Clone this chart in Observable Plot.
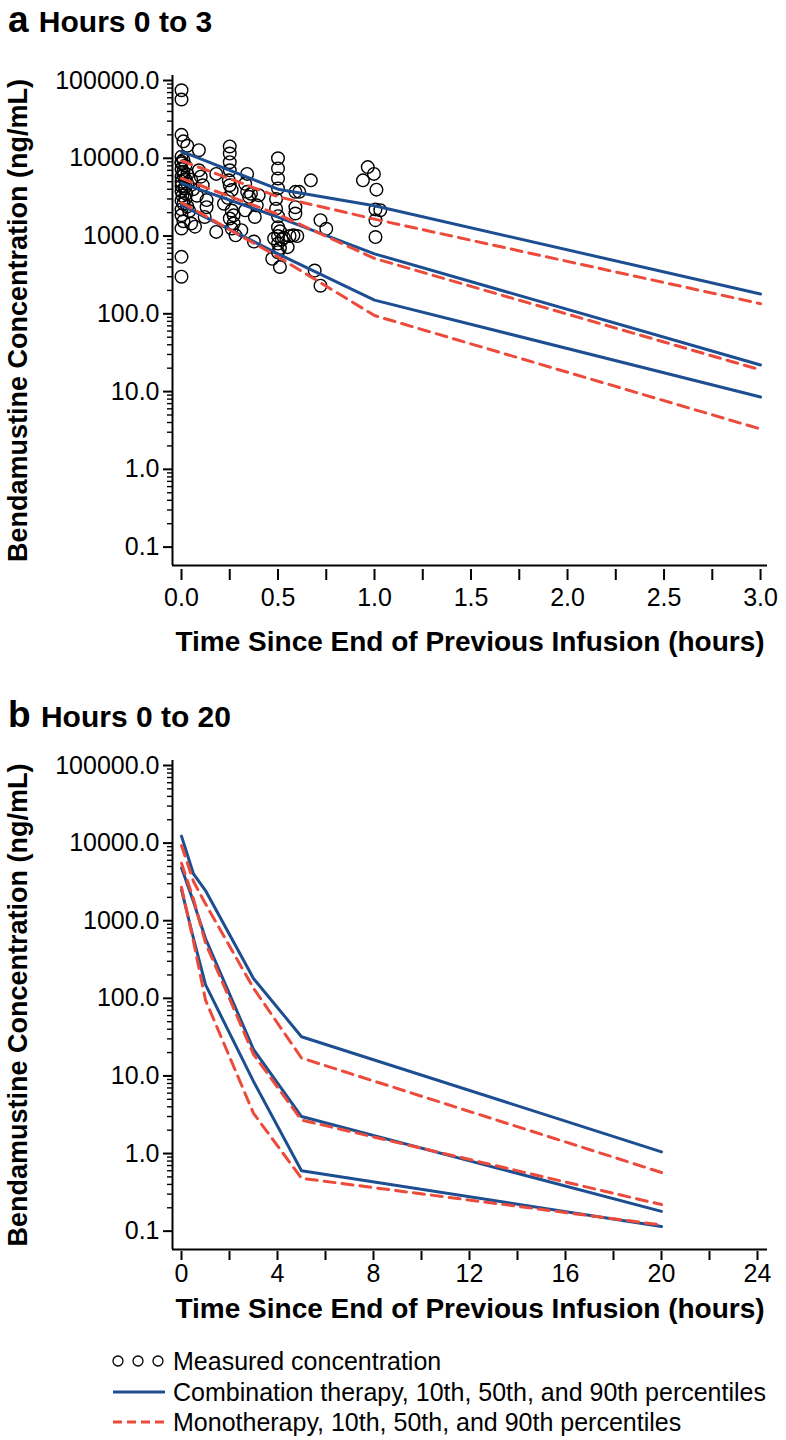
<!DOCTYPE html>
<html>
<head>
<meta charset="utf-8">
<script src="https://cdn.jsdelivr.net/npm/d3@7"></script>
<script src="https://cdn.jsdelivr.net/npm/@observablehq/plot@0.6"></script>
<style>
  html, body { margin: 0; padding: 0; background: #fff; }
  body { font-family: "Liberation Sans", Arial, Helvetica, sans-serif; color: #000; }
  #root { position: relative; width: 786px; height: 1440px; overflow: hidden; }
  .title { position: absolute; left: 8px; font-weight: bold; white-space: nowrap; font-size: 37px; line-height: 36px; z-index: 2; }
  .title .sub { font-size: 30px; }
  .panel { position: absolute; left: 0; }
</style>
</head>
<body>
<div id="root">
  <div class="panel" id="panelA" style="top:40px"></div>
  <div class="panel" id="panelB" style="top:730px"></div>
  <div class="panel" id="legend" style="top:1340px"></div>
  <div class="title" style="top:2px">a <span class="sub">Hours 0 to 3</span></div>
  <div class="title" style="top:697px">b <span class="sub">Hours 0 to 20</span></div>
</div>
<script>
// ---------- Data ----------
// Model-predicted percentiles (ng/mL) at these times (hours since end of infusion)
const modelTime = [0, 0.5, 1, 3, 5, 20];
const combo10 = [2500, 590, 150, 8.5, 0.6, 0.115];
const combo50 = [4800, 1750, 590, 22, 3.0, 0.18];
const combo90 = [12300, 4000, 2450, 180, 32, 1.05];
const mono10  = [2700, 540, 95, 3.3, 0.48, 0.12];
const mono50  = [5500, 1900, 515, 19, 2.7, 0.22];
const mono90  = [9300, 3200, 1650, 135, 17, 0.57];

// Measured concentrations (panel a)
const measuredTime = [
  0.00, 0.00, 0.00, 0.01, 0.03, 0.00, 0.01, 0.00, 0.02, 0.00,
  0.01, 0.03, 0.00, 0.02, 0.00, 0.03, 0.00, 0.015, 0.00, 0.025,
  0.005, 0.02, 0.00, 0.01, 0.03, 0.00, 0.01, 0.00, 0.00, 0.00,
  0.05, 0.07, 0.09, 0.09, 0.10, 0.11, 0.08, 0.13, 0.13, 0.05,
  0.06, 0.18, 0.18, 0.04, 0.25, 0.25, 0.25, 0.25, 0.245, 0.25,
  0.26, 0.24, 0.26, 0.27, 0.25, 0.27, 0.26, 0.28, 0.33, 0.34,
  0.35, 0.40, 0.38, 0.33, 0.375, 0.31, 0.34, 0.50, 0.50, 0.50,
  0.50, 0.49, 0.49, 0.48, 0.50, 0.51, 0.50, 0.52, 0.50, 0.51,
  0.50, 0.47, 0.51, 0.55, 0.58, 0.56, 0.60, 0.67, 0.59, 0.61,
  0.59, 0.59, 0.72, 0.75, 0.69, 0.72, 0.965, 0.997, 0.94, 1.01,
  1.005, 1.03, 1.005, 1.005, 0.12, 0.39, 0.36, 0.22, 0.53, 0.50,
  0.00, 0.01, 0.02, 0.00
];
const measuredConc = [
  75000, 57000, 20000, 16500, 14500, 10500, 9500, 8600, 8000, 7300,
  6700, 6200, 5800, 5400, 5000, 4700, 4400, 4100, 3800, 3500,
  3300, 3050, 2850, 2600, 2400, 1850, 1550, 1250, 540, 300,
  1450, 1320, 12700, 7000, 5800, 4500, 3300, 2900, 2350, 5300,
  4000, 6300, 1130, 2100, 14200, 11500, 8900, 7000, 5200, 4500,
  3900, 3100, 2130, 1850, 1680, 1450, 1250, 1020, 4700, 3700,
  3200, 3350, 1760, 2140, 850, 1190, 6300, 10000, 7400, 5500,
  4100, 3000, 2250, 930, 1300, 1150, 1000, 900, 800, 700,
  620, 510, 400, 720, 1020, 1000, 1000, 5200, 3700, 3700,
  2350, 1950, 1600, 1240, 360, 230, 7700, 6300, 5200, 3950,
  2200, 2150, 1600, 970, 1760, 2480, 3500, 2600, 950, 1800,
  9000, 6000, 4300, 2200
];

// Axis ticks
const yMajorTicks = [0.1, 1, 10, 100, 1000, 10000, 100000];
const xTicksA = [0, 0.25, 0.5, 0.75, 1, 1.25, 1.5, 1.75, 2, 2.25, 2.5, 2.75, 3];
const xTicksB = [0, 2, 4, 6, 8, 10, 12, 14, 16, 18, 20, 22, 24];

// Text
const yLabel = "Bendamustine Concentration (ng/mL)";
const xLabel = "Time Since End of Previous Infusion (hours)";
const legendLabels = [
  "Measured concentration",
  "Combination therapy, 10th, 50th, and 90th percentiles",
  "Monotherapy, 10th, 50th, and 90th percentiles"
];

// ---------- Build ----------
const BLUE = "#1c4e91";
const RED = "#ec4b3c";
const FONT = '"Liberation Sans", Arial, Helvetica, sans-serif';

const yMinorTicks = [];
for (let i = 0; i < yMajorTicks.length - 1; i++) {
  for (let k = 2; k <= 9; k++) yMinorTicks.push(yMajorTicks[i] * k);
}

const seriesDefs = [
  {name: "combo10", values: combo10, therapy: "combo"},
  {name: "combo50", values: combo50, therapy: "combo"},
  {name: "combo90", values: combo90, therapy: "combo"},
  {name: "mono10", values: mono10, therapy: "mono"},
  {name: "mono50", values: mono50, therapy: "mono"},
  {name: "mono90", values: mono90, therapy: "mono"}
];
const modelRows = [];
for (const s of seriesDefs) {
  modelTime.forEach((t, i) => modelRows.push({series: s.name, therapy: s.therapy, t, c: s.values[i]}));
}
const points = measuredTime.map((t, i) => ({t, c: measuredConc[i]}));

const yDomain = [0.058, 116000];

function panel({xDomain, xTicks, xFmt, tMax, withPoints, height, marginTop, marginBottom, tickDy, tickSize, tickPadding, xLabelDy}) {
  const rows = modelRows.filter(d => d.t <= tMax);
  const marks = [
    Plot.ruleX([xDomain[0]], {stroke: "#000", strokeWidth: 2}),
    Plot.ruleY([yDomain[0]], {stroke: "#000", strokeWidth: 2}),
    Plot.axisY(yMinorTicks, {tickSize: 5, tickFormat: () => "", strokeWidth: 1.4, label: null}),
    Plot.axisY(yMajorTicks, {tickSize: 9, tickPadding: 4, tickFormat: d => d.toFixed(1), fontSize: 25, strokeWidth: 2, label: null}),
    Plot.axisX(xTicks, {tickSize, tickPadding, tickFormat: xFmt, fontSize: 25, strokeWidth: 2, dy: tickDy, label: null}),
    Plot.text([xLabel], {text: d => d, frameAnchor: "bottom", lineAnchor: "bottom", textAnchor: "middle", dy: xLabelDy, fontSize: 28, fontWeight: "bold"}),
    Plot.text([yLabel], {text: d => d, frameAnchor: "left", textAnchor: "middle", lineAnchor: "middle", rotate: -90, dx: -154, fontSize: 27, fontWeight: "bold"})
  ];
  if (withPoints) {
    marks.push(Plot.dot(points, {x: "t", y: "c", r: 6.3, stroke: "#000", strokeWidth: 1.4, fill: "none"}));
  }
  marks.push(Plot.line(rows.filter(d => d.therapy === "combo"), {x: "t", y: "c", z: "series", stroke: BLUE, strokeWidth: 3}));
  marks.push(Plot.line(rows.filter(d => d.therapy === "mono"), {x: "t", y: "c", z: "series", stroke: RED, strokeWidth: 3, strokeDasharray: "11,7"}));
  return Plot.plot({
    width: 786,
    height,
    marginLeft: 172,
    marginRight: 19,
    marginTop,
    marginBottom,
    style: {fontFamily: FONT, color: "#000", background: "transparent", overflow: "visible"},
    x: {domain: xDomain, nice: false},
    y: {type: "log", domain: yDomain, nice: false},
    marks
  });
}

document.getElementById("panelA").appendChild(panel({
  xDomain: [-0.0466, 3.036],
  xTicks: xTicksA,
  xFmt: d => (Math.round(d * 4) % 2 === 0 ? d.toFixed(1) : ""),
  tMax: 3,
  withPoints: true,
  height: 625, marginTop: 35, marginBottom: 100,
  tickDy: 4, tickSize: 11, tickPadding: 8, xLabelDy: 85
}));

document.getElementById("panelB").appendChild(panel({
  xDomain: [-0.375, 24.417],
  xTicks: xTicksB,
  xFmt: d => (d % 4 === 0 ? String(d) : ""),
  tMax: 20,
  withPoints: false,
  height: 614, marginTop: 30, marginBottom: 95,
  tickDy: 2, tickSize: 9, tickPadding: 4, xLabelDy: 68
}));

// Legend
const lg = d3.select("#legend").append("svg")
  .attr("width", 786).attr("height", 100)
  .style("font-family", FONT);
const rowsY = [21, 52, 82];
[118, 138, 158].forEach(cx => lg.append("circle").attr("cx", cx).attr("cy", rowsY[0]).attr("r", 5)
  .attr("fill", "none").attr("stroke", "#000").attr("stroke-width", 1.3));
lg.append("line").attr("x1", 113).attr("x2", 165).attr("y1", rowsY[1]).attr("y2", rowsY[1])
  .attr("stroke", BLUE).attr("stroke-width", 3);
lg.append("line").attr("x1", 113).attr("x2", 165).attr("y1", rowsY[2]).attr("y2", rowsY[2])
  .attr("stroke", RED).attr("stroke-width", 3).attr("stroke-dasharray", "9,5");
legendLabels.forEach((t, i) => lg.append("text").attr("x", 173).attr("y", rowsY[i] + 9)
  .attr("font-size", 25).attr("fill", "#000").text(t));
</script>
</body>
</html>
